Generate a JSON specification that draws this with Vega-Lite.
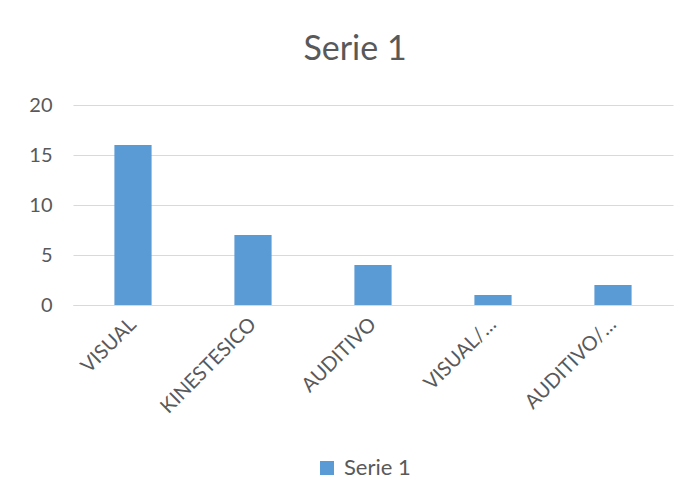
{
  "$schema": "https://vega.github.io/schema/vega-lite/v6.json",
  "width": 600,
  "height": 200,
  "autosize": "none",
  "padding": {"left": 73, "top": 105, "right": 18, "bottom": 198},
  "background": "white",
  "title": {"text": "Serie 1", "fontSize": 34, "font": "Lato", "fontWeight": "normal", "color": "#595959", "anchor": "middle", "dx": -18, "offset": 28},
  "data": {"values": [
    {"estilo": "VISUAL", "valor": 16, "serie": "Serie 1"},
    {"estilo": "KINESTESICO", "valor": 7, "serie": "Serie 1"},
    {"estilo": "AUDITIVO", "valor": 4, "serie": "Serie 1"},
    {"estilo": "VISUAL/…", "valor": 1, "serie": "Serie 1"},
    {"estilo": "AUDITIVO/…", "valor": 2, "serie": "Serie 1"}
  ]},
  "mark": {"type": "bar"},
  "encoding": {
    "x": {"field": "estilo", "type": "nominal", "sort": null, "title": null,
      "scale": {"paddingInner": 0.69, "paddingOuter": 0.345},
      "axis": {"labelAngle": -45, "labelAlign": "right", "labelBaseline": "middle", "labelFont": "Lato", "labelFontSize": 20, "labelColor": "#595959", "ticks": false, "domainColor": "#d9d9d9", "domainWidth": 1, "labelPadding": 16, "labelOverlap": false}},
    "y": {"field": "valor", "type": "quantitative", "title": null,
      "scale": {"domain": [0, 20]},
      "axis": {"values": [0, 5, 10, 15, 20], "labelFont": "Lato", "labelFontSize": 20, "labelColor": "#595959", "ticks": false, "domain": false, "gridColor": "#d9d9d9", "labelPadding": 21}},
    "color": {"field": "serie", "type": "nominal", "scale": {"range": ["#5b9bd5"]},
      "legend": {"title": null, "orient": "none", "legendX": 243, "legendY": 352, "symbolType": "square", "symbolSize": 196, "symbolStrokeWidth": 0, "labelFont": "Lato", "labelFontSize": 22, "labelColor": "#595959", "labelOffset": 6}}
  },
  "config": {"view": {"stroke": null}}
}
